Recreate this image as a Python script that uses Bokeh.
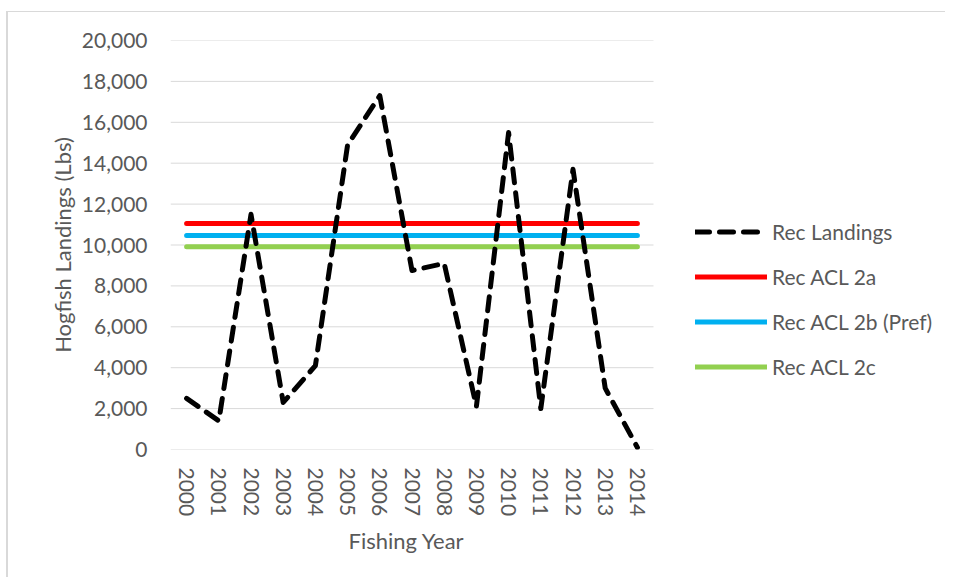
from bokeh.plotting import figure
from bokeh.models import FixedTicker, Range1d, Legend, LegendItem, NumeralTickFormatter, Title
from bokeh.embed import file_html
from bokeh.resources import INLINE

years = ["2000", "2001", "2002", "2003", "2004", "2005", "2006", "2007",
         "2008", "2009", "2010", "2011", "2012", "2013", "2014"]
rec_landings = [2500, 1400, 11500, 2300, 4100, 14900, 17300, 8750,
                9100, 2100, 15500, 2000, 13700, 3000, 100]
acl_2a = 11050
acl_2b = 10460
acl_2c = 9920
y_ticks = [0, 2000, 4000, 6000, 8000, 10000, 12000, 14000, 16000, 18000, 20000]

FONT = "Lato"
TXT = "#595959"
FS = "21px"
FS_T = "22px"

xs = list(range(len(years)))
n = len(xs)

# layout (pixels)
W, H = 939, 566
LEFT, TOP, BOTTOM = 162, 28, 129
PLOT_W = 483  # width of the gridded plot area
frame_w = W - LEFT
x_lo = -0.5
x_hi = x_lo + n * frame_w / PLOT_W

p = figure(width=W, height=H, output_backend="svg", toolbar_location=None,
           x_range=Range1d(x_lo, x_hi), y_range=Range1d(0, 20000),
           min_border_left=LEFT, min_border_right=0, min_border_top=TOP,
           min_border_bottom=BOTTOM)
p.outline_line_color = None
p.background_fill_color = "white"
p.border_fill_color = "white"
p.styles = {"margin-left": "6px", "margin-top": "11px",
            "border-left": "2px solid #d9d9d9", "border-top": "1px solid #d9d9d9"}

# horizontal gridlines spanning only the category area
p.segment(x0=[x_lo] * len(y_ticks), x1=[n - 0.5] * len(y_ticks), y0=y_ticks, y1=y_ticks,
          line_color="#d9d9d9", line_width=1)

DASH = "14 10"
r_a = p.line(xs, [acl_2a] * n, line_color="#FF0000", line_width=5, line_cap="round")
r_b = p.line(xs, [acl_2b] * n, line_color="#00B0F0", line_width=5, line_cap="round")
r_c = p.line(xs, [acl_2c] * n, line_color="#92D050", line_width=5, line_cap="round")
r_land = p.line(xs, rec_landings, line_color="black", line_width=5, line_dash=DASH,
                line_cap="round", line_join="round")

legend = Legend(items=[
    LegendItem(label="Rec Landings", renderers=[r_land]),
    LegendItem(label="Rec ACL 2a", renderers=[r_a]),
    LegendItem(label="Rec ACL 2b (Pref)", renderers=[r_b]),
    LegendItem(label="Rec ACL 2c", renderers=[r_c]),
], location=(525, 60))
legend.padding = 0
legend.margin = 0
legend.spacing = 0
legend.border_line_color = None
legend.background_fill_alpha = 0
legend.glyph_width = 72
legend.glyph_height = 45
legend.label_height = 45
legend.label_standoff = 5
legend.label_text_font = FONT
legend.label_text_font_size = FS
legend.label_text_color = TXT
p.add_layout(legend, "center")

p.xgrid.grid_line_color = None
p.ygrid.grid_line_color = None

# y axis
p.yaxis.ticker = FixedTicker(ticks=y_ticks)
p.yaxis.formatter = NumeralTickFormatter(format="0,0")
p.yaxis.axis_line_color = None
p.yaxis.major_tick_line_color = None
p.yaxis.minor_tick_line_color = None
p.yaxis.major_label_standoff = 17
p.yaxis.major_label_text_font = FONT
p.yaxis.major_label_text_font_size = FS
p.yaxis.major_label_text_color = TXT
p.yaxis.axis_label = "Hogfish Landings (Lbs)"
p.yaxis.axis_label_text_font = FONT
p.yaxis.axis_label_text_font_size = FS_T
p.yaxis.axis_label_text_font_style = "normal"
p.yaxis.axis_label_text_color = TXT
p.yaxis.axis_label_standoff = 3

# x axis
p.xaxis.ticker = FixedTicker(ticks=xs)
p.xaxis.major_label_overrides = {i: y for i, y in enumerate(years)}
p.xaxis.major_label_orientation = "vertical"
p.xaxis.axis_line_color = None
p.xaxis.major_tick_line_color = None
p.xaxis.minor_tick_line_color = None
p.xaxis.major_label_standoff = 12
p.xaxis.major_label_text_font = FONT
p.xaxis.major_label_text_font_size = FS
p.xaxis.major_label_text_color = TXT

# x axis title, centred under the category area
x_title = Title(text="Fishing Year", align="left", offset=178, standoff=10,
                text_font=FONT, text_font_size=FS_T, text_font_style="normal",
                text_color=TXT)
p.add_layout(x_title, "below")

open("out.html", "w").write(file_html(p, INLINE))
